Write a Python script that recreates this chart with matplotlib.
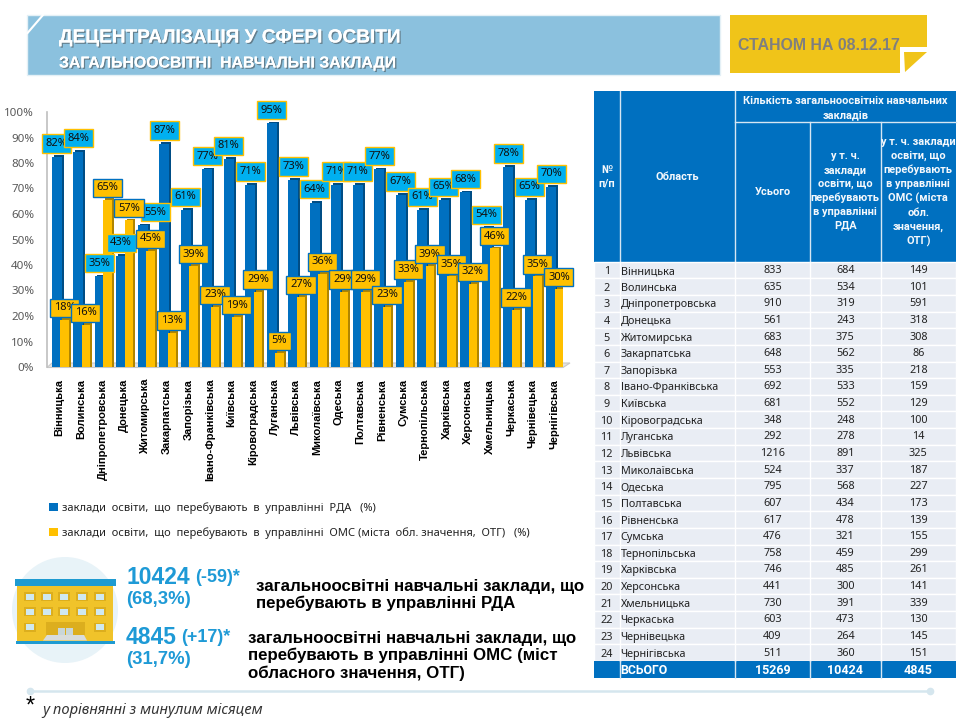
import matplotlib
matplotlib.use("Agg")
import matplotlib.pyplot as plt
import matplotlib.patheffects as pe
from matplotlib.patches import Rectangle, Polygon, Circle

regions = ["Вінницька", "Волинська", "Дніпропетровська", "Донецька", "Житомирська", "Закарпатська",
           "Запорізька", "Івано-Франківська", "Київська", "Кіровоградська", "Луганська", "Львівська",
           "Миколаївська", "Одеська", "Полтавська", "Рівненська", "Сумська", "Тернопільська",
           "Харківська", "Херсонська", "Хмельницька", "Черкаська", "Чернівецька", "Чернігівська"]
rda_pct = [82, 84, 35, 43, 55, 87, 61, 77, 81, 71, 95, 73, 64, 71, 71, 77, 67, 61, 65, 68, 54, 78, 65, 70]
oms_pct = [18, 16, 65, 57, 45, 13, 39, 23, 19, 29, 5, 27, 36, 29, 29, 23, 33, 39, 35, 32, 46, 22, 35, 30]

total_count = [833, 635, 910, 561, 683, 648, 553, 692, 681, 348, 292, 1216,
               524, 795, 607, 617, 476, 758, 746, 441, 730, 603, 409, 511]
rda_count = [684, 534, 319, 243, 375, 562, 335, 533, 552, 248, 278, 891,
             337, 568, 434, 478, 321, 459, 485, 300, 391, 473, 264, 360]
oms_count = [149, 101, 591, 318, 308, 86, 218, 159, 129, 100, 14, 325,
             187, 227, 173, 139, 155, 299, 261, 141, 339, 130, 145, 151]
totals = [15269, 10424, 4845]

BLUE = "#0070c0"
BLUE_SIDE = "#004d85"
YELLOW = "#ffc000"
YELLOW_SIDE = "#b08500"
SKY = "#00b0f0"
TITLE_BG = "#8bc1de"
GOLD = "#f0c419"
ACCENT = "#1e9ad6"
FONT = "Noto Sans"
BOLD_FONT = "Roboto"
ARIAL = "Liberation Sans"

plt.rcParams["font.family"] = FONT

fig = plt.figure(figsize=(9.6, 7.2), dpi=100)

# full figure layer in pixel coordinates for the slide decoration and table
bg = fig.add_axes([0, 0, 1, 1])
bg.set_xlim(0, 960)
bg.set_ylim(720, 0)
bg.axis("off")

# header banners
bg.add_patch(Rectangle((27, 15), 693, 60, fc=TITLE_BG, ec="#e4f0f6", lw=1))
bg.plot([43, 27.5], [15, 33], color="white", lw=1.5)
bg.add_patch(Polygon([(730, 15), (927, 15), (927, 47), (900, 47), (900, 73), (730, 73)], fc=GOLD, ec="none"))
bg.add_patch(Polygon([(904, 52), (927, 52), (905, 72)], fc=GOLD, ec="none"))
shadow = [pe.withSimplePatchShadow(offset=(1, -1), shadow_rgbFace="#5b6f7a", alpha=0.8), pe.Normal()]
bg.text(59, 38, "ДЕЦЕНТРАЛІЗАЦІЯ У СФЕРІ ОСВІТИ", color="white", fontsize=13.7, fontweight="bold",
        family=ARIAL, va="center", path_effects=shadow)
bg.text(59, 63, "ЗАГАЛЬНООСВІТНІ  НАВЧАЛЬНІ ЗАКЛАДИ", color="white", fontsize=11.4, fontweight="bold",
        family=ARIAL, va="center", path_effects=shadow)
bg.text(738, 45, "СТАНОМ НА 08.12.17", color="#7f7f80", fontsize=11.4, fontweight="bold",
        family=ARIAL, va="center")

# chart floor
bg.add_patch(Polygon([(47, 367.5), (563, 367.5), (570, 363), (52, 363)], fc="#e3e3e3", ec="#c8c8c8", lw=0.8))

ax = fig.add_axes([47 / 960, (720 - 367) / 720, (563 - 47) / 960, (367 - 112) / 720])
ax.patch.set_alpha(0)
ax.set_xlim(-0.65, 23.35)
ax.set_ylim(0, 100)
for side in ["top", "right", "bottom"]:
    ax.spines[side].set_visible(False)
ax.spines["left"].set_color("#bfbfbf")
ax.spines["left"].set_linewidth(1.2)

xs = list(range(len(regions)))
blue_x = [x - 0.2 for x in xs]
yellow_x = [x + 0.16 for x in xs]
ax.bar([x + 0.09 for x in blue_x], [v + 1.2 for v in rda_pct], width=0.47, color=BLUE_SIDE, zorder=2)
ax.bar(blue_x, [v + 0.5 for v in rda_pct], width=0.46, color=BLUE, zorder=3, label="заклади  освіти,  що  перебувають  в  управлінні  РДА   (%)")
ax.bar([x + 0.09 for x in yellow_x], [v + 1.2 for v in oms_pct], width=0.40, color=YELLOW_SIDE, zorder=4)
ax.bar(yellow_x, [v + 0.5 for v in oms_pct], width=0.39, color=YELLOW, zorder=5, label="заклади  освіти,  що  перебувають  в  управлінні  ОМС (міста  обл. значення,  ОТГ)   (%)")

ax.set_yticks(range(0, 101, 10))
ax.set_yticklabels([f"{v}%" for v in range(0, 101, 10)], fontsize=8.3, color="#595959")
ax.tick_params(axis="y", length=0, pad=9.2)
ax.set_xticks([x - 0.07 for x in xs])
ax.set_xticklabels(regions, rotation=90, fontsize=8, fontweight="bold", family=ARIAL, color="black", ha="center", va="top")
ax.tick_params(axis="x", length=0, pad=8.5)

# labels: the Zhytomyr one was moved aside in the original
for i, v in enumerate(rda_pct):
    dx = 13 if i == 4 else 0
    ax.annotate(f"{v}%", (blue_x[i], v), xytext=(dx, 14.5), textcoords="offset pixels",
                ha="center", va="center", fontsize=8, color="#111111", zorder=10, annotation_clip=False,
                bbox=dict(boxstyle="square,pad=0.33", fc=SKY, ec=YELLOW, lw=1))
for i, v in enumerate(oms_pct):
    ax.annotate(f"{v}%", (yellow_x[i], v), xytext=(0, 13.4), textcoords="offset pixels",
                ha="center", va="center", fontsize=8, color="#111111", zorder=11, annotation_clip=False,
                bbox=dict(boxstyle="square,pad=0.33", fc=YELLOW, ec=BLUE, lw=1))

handles, labels = ax.get_legend_handles_labels()
fig.legend(handles, labels, loc="upper left", bbox_to_anchor=(46 / 960, 1 - 499 / 720), frameon=False,
           fontsize=8, handlelength=0.75, handleheight=0.75, handletextpad=0.35, labelspacing=1.15,
           labelcolor="#222222", borderpad=0.3, borderaxespad=0)

# table
col_x = [594, 619.5, 735, 810, 880.7, 956]
head_top, head_mid, head_bot = 91, 121.7, 261.7
row_h = (661 - head_bot) / 24
bg.add_patch(Rectangle((col_x[0], head_top), col_x[-1] - col_x[0], head_bot - head_top, fc=BLUE, ec="none"))
for x in col_x[1:3]:
    bg.plot([x, x], [head_top, head_bot], color="#d6e6f3", lw=1)
for x in col_x[3:5]:
    bg.plot([x, x], [head_mid, head_bot], color="#d6e6f3", lw=1)
bg.plot([col_x[2], col_x[-1]], [head_mid, head_mid], color="#d6e6f3", lw=1)

head_kw = dict(color="#f4f8fc", fontsize=7.9, fontweight="bold", family=BOLD_FONT, ha="center", va="center", linespacing=1.45)
bg.text((col_x[0] + col_x[1]) / 2, 177, "№\nп/п", **head_kw)
bg.text((col_x[1] + col_x[2]) / 2, 177, "Область", **head_kw)
bg.text((col_x[2] + col_x[-1]) / 2, 108, "Кількість загальноосвітніх навчальних\nзакладів", **head_kw)
bg.text((col_x[2] + col_x[3]) / 2, 192, "Усього", **head_kw)
bg.text((col_x[3] + col_x[4]) / 2, 191, "у т. ч.\nзаклади\nосвіти, що\nперебувають\nв управлінні\nРДА", **head_kw)
bg.text((col_x[4] + col_x[5]) / 2, 192, "у т. ч. заклади\nосвіти, що\nперебувають\nв управлінні\nОМС (міста\nобл.\nзначення,\nОТГ)", **head_kw)

for i, name in enumerate(regions):
    y0 = head_bot + i * row_h
    bg.add_patch(Rectangle((col_x[0], y0), col_x[-1] - col_x[0], row_h, fc="#e9edf4", ec="white", lw=1))
    yc = y0 + row_h / 2
    bg.text((col_x[0] + col_x[1]) / 2, yc + 1.5, str(i + 1), fontsize=7.8, ha="center", va="center", color="#222222")
    bg.text(col_x[1] + 1, yc + 1.5, name, fontsize=7.8, ha="left", va="center", color="#222222")
    for j, vals in enumerate([total_count, rda_count, oms_count]):
        bg.text((col_x[j + 2] + col_x[j + 3]) / 2, yc + 0.5, str(vals[i]), fontsize=7.8, ha="center", va="center", color="#222222")
for x in col_x[1:5]:
    bg.plot([x, x], [head_bot, 661], color="white", lw=1)

bg.add_patch(Rectangle((col_x[0], 661), col_x[-1] - col_x[0], 17, fc=BLUE, ec="none"))
for x in col_x[1:5]:
    bg.plot([x, x], [661, 678], color="#d6e6f3", lw=1)
bg.text(col_x[1] + 1, 670.5, "ВСЬОГО", fontsize=8.8, fontweight="bold", family=BOLD_FONT, color="white", ha="left", va="center")
for j, v in enumerate(totals):
    bg.text((col_x[j + 2] + col_x[j + 3]) / 2, 670.5, str(v), fontsize=9, fontweight="bold", family=BOLD_FONT, color="white", ha="center", va="center")

# school icon
bg.add_patch(Circle((65, 610), 53, fc="#e8f3f8", ec="none"))
bg.add_patch(Rectangle((17, 586), 96, 55, fc="#f0c32a", ec="none"))
bg.add_patch(Rectangle((14.5, 579), 101, 7, fc="#1f9bd1", ec="none"))
bg.add_patch(Rectangle((16, 640.5), 99, 3.5, fc="#1f9bd1", ec="none"))
for wy, cols in [(596.5, [29.5, 47, 64.4, 82, 99.6]), (611.5, [29.5, 47, 64.4, 82, 99.6]), (627, [29.5, 99.6])]:
    for wx in cols:
        bg.add_patch(Rectangle((wx - 6, wy - 4.5), 12, 9, fc="#dcae1e", ec="none"))
        bg.add_patch(Rectangle((wx - 4, wy - 3), 8, 6, fc="#cfe8f0", ec="none"))
bg.add_patch(Rectangle((46, 622), 39, 13, fc="#dcae1e", ec="none"))
bg.add_patch(Rectangle((58, 628), 6.5, 7.5, fc="#c9d6d8", ec="none"))
bg.add_patch(Rectangle((66, 628), 6.5, 7.5, fc="#c9d6d8", ec="none"))
bg.add_patch(Polygon([(47, 635), (84, 635), (87, 640.5), (43, 640.5)], fc="#d8dcdc", ec="none"))

# key figures
big = dict(color=ACCENT, fontweight="bold", family=ARIAL, va="center")
bg.text(126, 578, "10424", fontsize=16.5, **big)
bg.text(195, 578, "(-59)*", fontsize=13, **big)
bg.text(126, 600, "(68,3%)", fontsize=13.3, **big)
bg.text(126, 638, "4845", fontsize=16.5, **big)
bg.text(181, 638, "(+17)*", fontsize=13, **big)
bg.text(126, 660, "(31,7%)", fontsize=13.3, **big)

note = dict(color="black", fontsize=12.2, fontweight="bold", family=ARIAL, va="center")
bg.text(255.5, 586.5, "загальноосвітні навчальні заклади, що", **note)
bg.text(255.5, 603, "перебувають в управлінні РДА", **note)
bg.text(248.5, 638, "загальноосвітні навчальні заклади, що", **note)
bg.text(248.5, 655, "перебувають в управлінні ОМС (міст", **note)
bg.text(248.5, 673, "обласного значення, ОТГ)", **note)

# footnote
bg.plot([30, 930], [691, 691], color="#d5e6ee", lw=1.8)
bg.plot([30, 930], [691, 691], ls="none", marker="o", ms=4.5, color="#d5e6ee")
bg.text(26, 707, "*", fontsize=17, color="black", family=ARIAL, va="center")
bg.text(42, 710, "у порівнянні з минулим місяцем", fontsize=10.6, style="italic", color="#333333", va="center")

fig.savefig("out.png", dpi=100)
